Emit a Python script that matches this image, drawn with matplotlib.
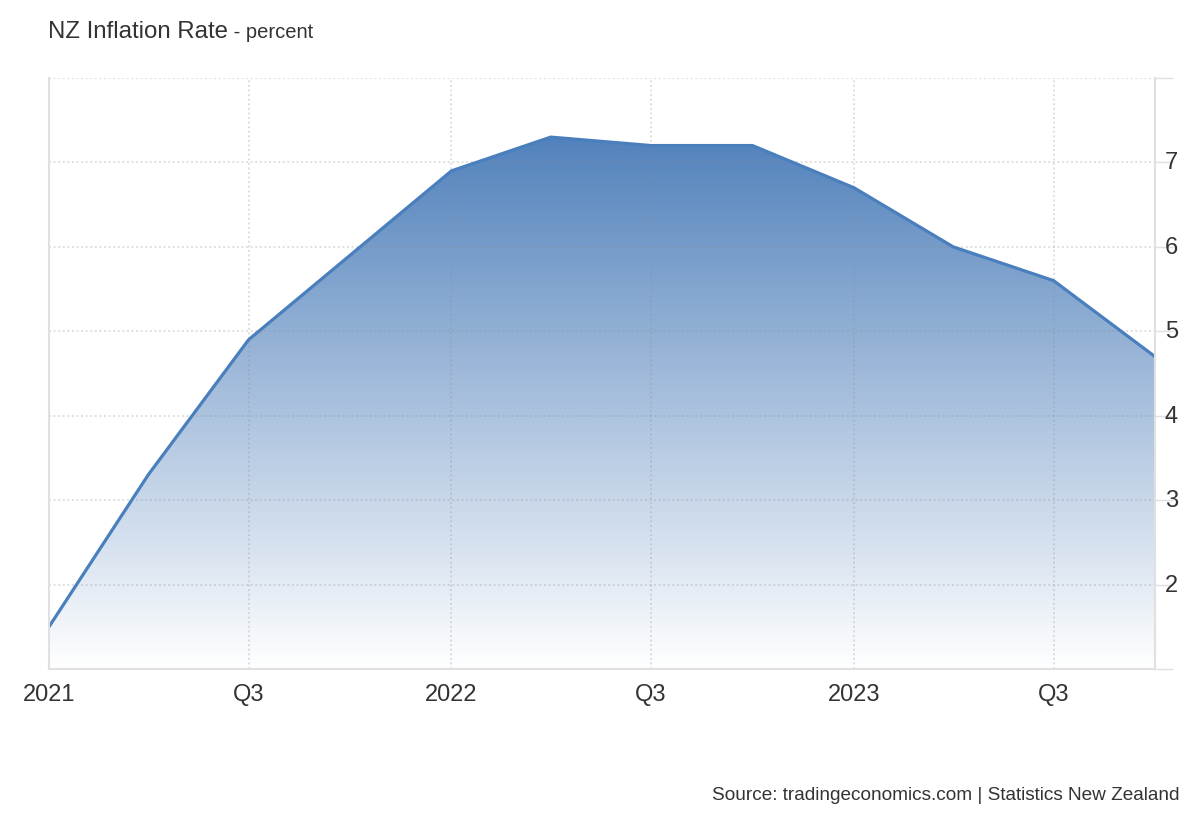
import matplotlib
matplotlib.use("Agg")
import matplotlib.pyplot as plt
import matplotlib.dates as mdates
from matplotlib.colors import LinearSegmentedColormap
from matplotlib.patches import Polygon
import numpy as np
import datetime as dt

plt.rcParams['font.family'] = ['Liberation Sans', 'DejaVu Sans']

quarters = ["2021-01-01", "2021-04-01", "2021-07-01", "2021-10-01",
            "2022-01-01", "2022-04-01", "2022-07-01", "2022-10-01",
            "2023-01-01", "2023-04-01", "2023-07-01", "2023-10-01"]
inflation = [1.5, 3.3, 4.9, 5.9, 6.9, 7.3, 7.2, 7.2, 6.7, 6.0, 5.6, 4.7]

xtick_dates = ["2021-01-01", "2021-07-01", "2022-01-01", "2022-07-01", "2023-01-01", "2023-07-01"]
xtick_labels = ["2021", "Q3", "2022", "Q3", "2023", "Q3"]
ytick_values = [1, 2, 3, 4, 5, 6, 7, 8]
ytick_labels = ["", "2", "3", "4", "5", "6", "7", ""]

title = "NZ Inflation Rate"
subtitle = " - percent"
source = "Source: tradingeconomics.com | Statistics New Zealand"

line_color = "#4a7fbd"
text_color = "#333333"
spine_color = "#e0e0e0"

dates = [dt.datetime.strptime(d, "%Y-%m-%d") for d in quarters]
xs = mdates.date2num(dates)
ys = np.array(inflation)

fig = plt.figure(figsize=(12, 8.2), dpi=100)
ax = fig.add_axes([49/1200, 1 - 670/820, (1155-49)/1200, (670-79)/820])

ymin, ymax = 1.0, 8.0
ax.set_xlim(xs[0], xs[-1])
ax.set_ylim(ymin, ymax)

# gradient fill
cmap = LinearSegmentedColormap.from_list("g", ["#ffffff", "#5282bc"])
grad = np.linspace(0, 1, 256).reshape(-1, 1)
top = ys.max()
im = ax.imshow(grad, extent=[xs[0], xs[-1], ymin, top], origin="lower",
               aspect="auto", cmap=cmap, zorder=1, interpolation="bilinear")
poly_pts = np.column_stack([np.concatenate([xs, [xs[-1], xs[0]]]),
                            np.concatenate([ys, [ymin, ymin]])])
poly = Polygon(poly_pts, closed=True, facecolor="none", edgecolor="none")
ax.add_patch(poly)
im.set_clip_path(poly)

ax.plot(xs, ys, color=line_color, lw=2.3, zorder=4, solid_joinstyle="round")

# grid
ax.set_xticks(mdates.date2num([dt.datetime.strptime(d, "%Y-%m-%d") for d in xtick_dates]))
ax.set_xticklabels(xtick_labels)
ax.set_yticks(ytick_values)
ax.set_yticklabels(ytick_labels)
ax.grid(True, color=(0.55, 0.55, 0.58), alpha=0.35, linestyle=(0, (1.3, 1.7)),
        linewidth=1.1, zorder=3)
ax.set_axisbelow(False)

ax.yaxis.tick_right()
ax.tick_params(axis="y", length=13, width=1, color=spine_color, pad=-6,
               labelsize=17, labelcolor=text_color)
ax.tick_params(axis="x", length=0, pad=10, labelsize=17, labelcolor=text_color)
for lab in ax.get_yticklabels():
    lab.set_verticalalignment("center")

ax.spines["top"].set_visible(False)
for s in ["left", "right", "bottom"]:
    ax.spines[s].set_color(spine_color)
    ax.spines[s].set_linewidth(1.5)
    ax.spines[s].set_zorder(5)

# title
t1 = fig.text(48/1200, 1 - 32/820, title, fontsize=17.3, color=text_color, va="center", ha="left")
fig.canvas.draw()
bb = t1.get_window_extent()
fig.text(bb.x1 / 1200, 1 - 33/820, subtitle, fontsize=14.5, color=text_color, va="center", ha="left")

fig.text(1179/1200, 1 - 796/820, source, fontsize=13.7, color=text_color, va="center", ha="right")

fig.savefig("out.png", dpi=100)
